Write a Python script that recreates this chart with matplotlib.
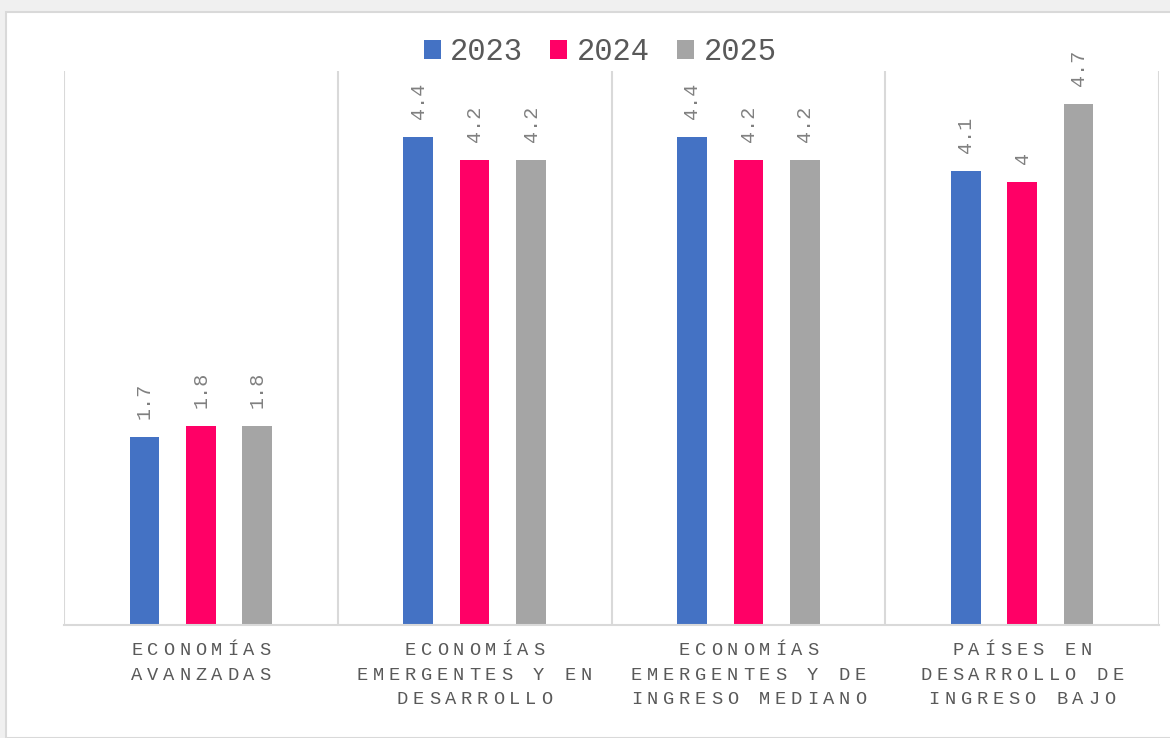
import numpy as np
import matplotlib
matplotlib.use("Agg")
import matplotlib.pyplot as plt
from matplotlib.patches import Rectangle
from matplotlib.transforms import offset_copy

# Growth projections by country group
categories = [
    "ECONOMÍAS\nAVANZADAS",
    "ECONOMÍAS\nEMERGENTES Y EN\nDESARROLLO",
    "ECONOMÍAS\nEMERGENTES Y DE\nINGRESO MEDIANO",
    "PAÍSES EN\nDESARROLLO DE\nINGRESO BAJO",
]
years = ["2023", "2024", "2025"]
values_2023 = [1.7, 4.4, 4.4, 4.1]
values_2024 = [1.8, 4.2, 4.2, 4.0]
values_2025 = [1.8, 4.2, 4.2, 4.7]
colors = ["#4472C4", "#FF0066", "#A5A5A5"]

FONT = "Liberation Mono"
DPI = 100


def spaced_text(ax, fig, x, y, s, pitch, dy=0, **kw):
    # draw one line character by character so the letter spacing can be widened
    n = len(s)
    base = ax.get_xaxis_transform()
    for i, ch in enumerate(s):
        if ch == " ":
            continue
        dx = (i - (n - 1) / 2) * pitch
        tr = offset_copy(base, fig=fig, x=dx, y=dy, units="points")
        ax.text(x, y, ch, transform=tr, ha="center", va="baseline", **kw)


def main():
    fig = plt.figure(figsize=(11.7, 7.38), dpi=DPI, facecolor="#f0f0f0")
    # white chart panel with a thin border on the top and left
    fig.patches.append(Rectangle((6 / 1170, 0), 1.01, 1 - 12 / 738,
                                 transform=fig.transFigure, facecolor="white",
                                 edgecolor="#d9d9d9", linewidth=1.5, zorder=-10))

    ax = fig.add_axes([64 / 1170, 113 / 738, 1095 / 1170, 554 / 738])
    ax.set_facecolor("none")
    ax.set_zorder(1)

    x = np.arange(len(categories))
    offset = 0.206
    width = 0.108
    series = [values_2023, values_2024, values_2025]
    handles = []
    for k, (vals, col) in enumerate(zip(series, colors)):
        bars = ax.bar(x + (k - 1) * offset, vals, width, color=col, zorder=2)
        handles.append(bars)
        for xi, v in zip(x + (k - 1) * offset, vals):
            ax.annotate(f"{v:g}", (xi, v), xytext=(0, 13), textcoords="offset points",
                        rotation=90, ha="center", va="bottom", fontsize=14.5,
                        family=FONT, color="#808080")

    ax.set_xlim(-0.5, len(categories) - 0.5)
    ax.set_ylim(0, 5)
    for b in np.arange(-0.5, len(categories), 1.0):
        ax.axvline(b, color="#d9d9d9", linewidth=1.5, zorder=1)
    for side in ["top", "left", "right"]:
        ax.spines[side].set_visible(False)
    ax.spines["bottom"].set_color("#d9d9d9")
    ax.spines["bottom"].set_linewidth(1.5)
    ax.set_xticks([])
    ax.set_yticks([])

    # category labels with wide letter spacing
    for xi, lab in zip(x, categories):
        for j, line in enumerate(lab.split("\n")):
            dy = -(30 + 24.5 * j) * 0.72
            spaced_text(ax, fig, xi, 0, line, pitch=16 * 0.72, dy=dy,
                        fontsize=13.5, family=FONT, color="#595959")

    fig.legend(handles, years, loc="center", bbox_to_anchor=(600 / 1170, 1 - 52 / 738),
               ncol=3, frameon=False, prop={"family": FONT, "size": 22},
               labelcolor="#595959", handlelength=0.56, handleheight=0.56,
               handletextpad=0.3, columnspacing=0.9, borderpad=0)

    fig.savefig("out.png", dpi=DPI, facecolor=fig.get_facecolor())


if __name__ == "__main__":
    main()
